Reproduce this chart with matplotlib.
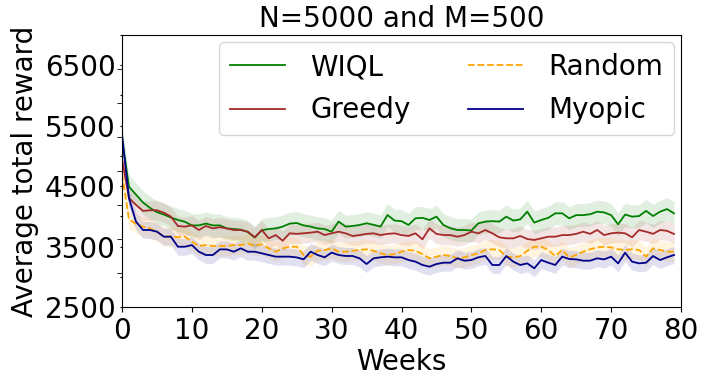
import numpy as np
import matplotlib
matplotlib.use("Agg")
import matplotlib.pyplot as plt
from matplotlib.ticker import FixedLocator

# average total reward per week
weeks = np.arange(80)

wiql = [5290, 4490, 4360, 4230, 4140, 4070, 4030, 3980, 3940, 3910,
        3850, 3850, 3880, 3850, 3850, 3800, 3790, 3780, 3740, 3650,
        3770, 3790, 3800, 3830, 3880, 3890, 3850, 3830, 3800, 3790,
        3746, 3914, 3830, 3840, 3857, 3885, 3860, 3830, 4022, 3930,
        3920, 3857, 3968, 3975, 3940, 3995, 3857, 3802, 3774, 3774,
        3765, 3885, 3913, 3920, 3913, 3995, 3930, 3950, 4077, 3896,
        3940, 3975, 4050, 4050, 3967, 4020, 4020, 4035, 4077, 4065,
        4020, 3868, 4030, 3995, 4005, 4090, 4005, 4077, 4120, 4050]

greedy = [4950, 4300, 4190, 4090, 4100, 4100, 4060, 3995, 3840, 3830,
          3850, 3774, 3840, 3800, 3820, 3800, 3774, 3774, 3746, 3653,
          3774, 3636, 3690, 3597, 3720, 3710, 3720, 3730, 3746, 3690,
          3719, 3746, 3719, 3675, 3690, 3710, 3719, 3690, 3710, 3719,
          3690, 3675, 3719, 3620, 3802, 3710, 3690, 3690, 3663, 3690,
          3746, 3719, 3774, 3719, 3653, 3636, 3636, 3675, 3625, 3609,
          3636, 3663, 3663, 3690, 3690, 3710, 3746, 3710, 3774, 3690,
          3719, 3730, 3719, 3653, 3774, 3746, 3710, 3774, 3760, 3708]

random_pol = [4700, 3950, 3873, 3829, 3800, 3746, 3663, 3670, 3653, 3663,
              3580, 3509, 3525, 3509, 3509, 3509, 3525, 3525, 3553, 3509,
              3540, 3470, 3415, 3470, 3497, 3497, 3360, 3333, 3430, 3440,
              3470, 3415, 3415, 3430, 3443, 3455, 3430, 3388, 3360, 3375,
              3415, 3443, 3430, 3375, 3305, 3333, 3360, 3343, 3305, 3320,
              3360, 3388, 3443, 3455, 3443, 3333, 3320, 3343, 3430, 3497,
              3497, 3443, 3343, 3443, 3320, 3360, 3415, 3455, 3485, 3497,
              3485, 3455, 3443, 3455, 3443, 3333, 3470, 3443, 3415, 3415]

myopic = [5350, 4298, 3913, 3774, 3774, 3746, 3663, 3663, 3497, 3497,
          3525, 3415, 3360, 3360, 3453, 3453, 3415, 3470, 3415, 3415,
          3388, 3360, 3333, 3333, 3333, 3320, 3289, 3415, 3360, 3322,
          3400, 3360, 3344, 3344, 3305, 3211, 3305, 3322, 3333, 3322,
          3322, 3277, 3250, 3195, 3167, 3211, 3233, 3233, 3305, 3266,
          3277, 3322, 3344, 3195, 3195, 3343, 3250, 3195, 3222, 3140,
          3277, 3233, 3195, 3333, 3294, 3288, 3266, 3266, 3305, 3288,
          3333, 3222, 3398, 3250, 3222, 3233, 3343, 3277, 3322, 3360]

# half width of the shaded band around each curve
spreads = {"WIQL": 190, "Greedy": 160, "Random": 160, "Myopic": 140}

series = [("WIQL", wiql, "green", "-"),
          ("Greedy", greedy, "brown", "-"),
          ("Random", random_pol, "orange", "--"),
          ("Myopic", myopic, "darkblue", "-")]

fig = plt.figure(figsize=(7.07, 3.82), dpi=100)
ax = fig.add_axes([122 / 707, 75 / 382, 559 / 707, 272 / 382])

for name, vals, color, ls in series:
    vals = np.array(vals, dtype=float)
    s = spreads[name]
    ax.plot(weeks, vals, color=color, linestyle=ls, linewidth=1.3, label=name)
    ax.fill_between(weeks, vals - s, vals + s, color=color, alpha=0.12, linewidth=0)

ax.set_xlim(0, 80)
ax.set_ylim(2500, 7000)
ax.set_xticks(np.arange(0, 81, 10))

# labelled ticks every 1000, small dots every 500, longer marks on an 8-step grid
yt = np.arange(2500, 7001, 500)
ax.set_yticks(yt)
ax.set_yticklabels([str(v) if (v - 2500) % 1000 == 0 else "" for v in yt])
ax.yaxis.set_minor_locator(FixedLocator(np.linspace(2500, 7000, 9)))
ax.tick_params(axis="y", which="major", length=1.2, labelsize=20)
ax.tick_params(axis="y", which="minor", length=3.5)
ax.tick_params(axis="x", labelsize=20)

ax.set_xlabel("Weeks", fontsize=20, labelpad=2)
ax.set_ylabel("Average total reward", fontsize=20, labelpad=4)
ax.set_title("N=5000 and M=500", fontsize=20, pad=6)

ax.legend(loc="upper right", ncol=2, fontsize=20, borderaxespad=0.25,
          columnspacing=2.05, handletextpad=0.9, labelspacing=0.55)

fig.savefig("out.png", dpi=100)
